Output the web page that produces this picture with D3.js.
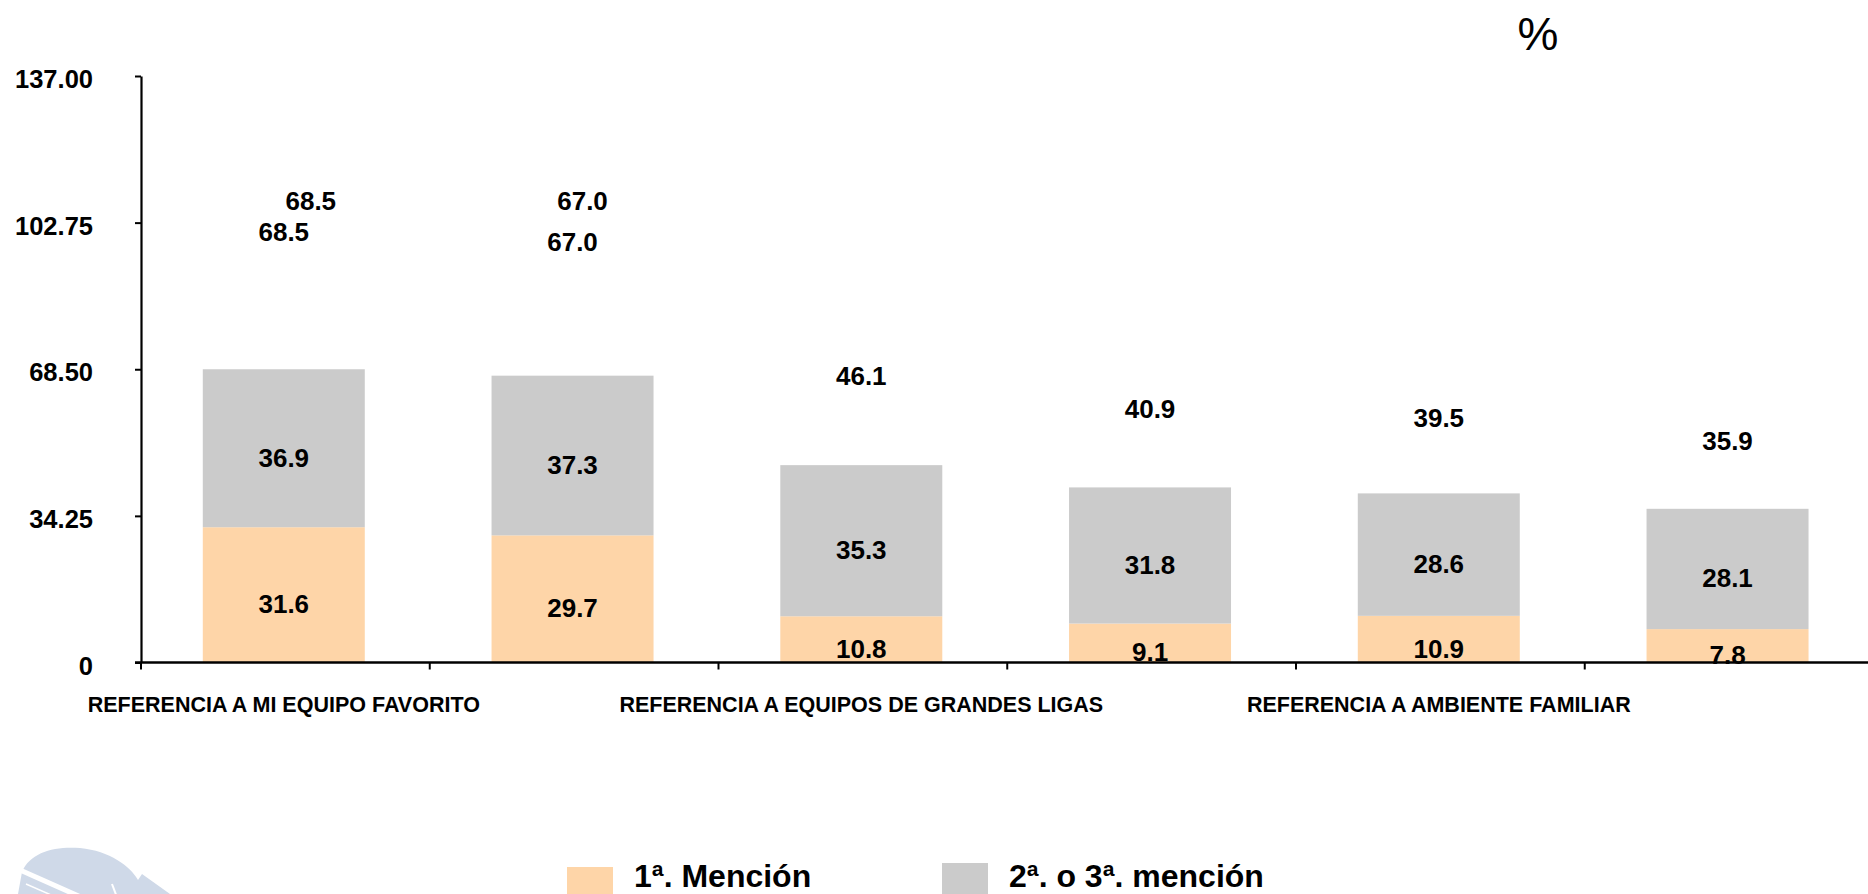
<!DOCTYPE html>
<html>
<head>
<meta charset="utf-8">
<script src="https://cdn.jsdelivr.net/npm/d3@7"></script>
<style>
  body { margin: 0; background: #fff; }
  svg { display: block; font-family: "Liberation Sans", Arial, sans-serif; }
  .lbl { font-weight: bold; font-size: 26px; fill: #000; }
  .axis text { font-weight: bold; fill: #000; }
</style>
</head>
<body>
<div id="chart"><svg></svg></div>
<script>
var categories = [
  "REFERENCIA A MI EQUIPO FAVORITO", "",
  "REFERENCIA A EQUIPOS DE GRANDES LIGAS", "",
  "REFERENCIA A AMBIENTE FAMILIAR", ""
];
var primera = [31.6, 29.7, 10.8, 9.1, 10.9, 7.8];
var segunda = [36.9, 37.3, 35.3, 31.8, 28.6, 28.1];
var totales = [68.5, 67.0, 46.1, 40.9, 39.5, 35.9];
var yTicks = [0, 34.25, 68.5, 102.75, 137];
var seriesNames = ["1ª. Mención", "2ª. o 3ª. mención"];
var colors = ["#fed5a8", "#cbcbcb"];
// second copy of the total label on the first two bars
var extraTotals = [0, 1];

var width = 1868, height = 894;
var axisX = 141, y0 = 662.5, yTop = 76;

var svg = d3.select("#chart svg").
  attr("width", width).
  attr("height", height);

var x = d3.scaleBand().
  domain(d3.range(categories.length)).
  range([axisX, axisX + 6 * 288.75]);

var y = d3.scaleLinear().
  domain([0, 137]).
  range([y0, yTop]);

var barOff = x.bandwidth() * 0.214;
var barW = x.bandwidth() * 0.561;

// watermark logo, bottom left
var logo = svg.append("g");
logo.append("path").
  attr("d", "M18,894 L22,872 C30,852 55,846 80,848 C110,851 130,866 138,880 L142,874 L170,894 Z").
  attr("fill", "#cfd9e8");
logo.append("line").
  attr("x1", 20).attr("y1", 870).attr("x2", 110).attr("y2", 910).
  attr("stroke", "#fff").attr("stroke-width", 5);
logo.append("line").
  attr("x1", 26).attr("y1", 884).attr("x2", 90).attr("y2", 912).
  attr("stroke", "#fff").attr("stroke-width", 1.5);
logo.append("line").
  attr("x1", 112).attr("y1", 884).attr("x2", 118).attr("y2", 900).
  attr("stroke", "#fff").attr("stroke-width", 2);

// bars
var stackData = d3.range(categories.length).map(function(i) {
  return { i: i, a: primera[i], b: segunda[i] };
});
var series = d3.stack().keys(["a", "b"])(stackData);

svg.append("g").
  selectAll("g").
  data(series).
  join("g").
  attr("fill", function(d, k) { return colors[k]; }).
  selectAll("rect").
  data(function(d) { return d; }).
  join("rect").
  attr("x", function(d) { return x(d.data.i) + barOff; }).
  attr("width", barW).
  attr("y", function(d) { return y(d[1]); }).
  attr("height", function(d) { return y(d[0]) - y(d[1]); });

// segment labels
svg.append("g").
  selectAll("g").
  data(series).
  join("g").
  selectAll("text").
  data(function(d) { return d; }).
  join("text").
  attr("class", "lbl").
  attr("text-anchor", "middle").
  attr("x", function(d) { return x(d.data.i) + x.bandwidth() * 0.4945; }).
  attr("y", function(d) { return y((d[0] + d[1]) / 2) + 9; }).
  attr("dy", "0.36em").
  text(function(d) { return (d[1] - d[0]).toFixed(1); });

// total labels (middle of an invisible stacked total)
svg.append("g").
  selectAll("text").
  data(totales).
  join("text").
  attr("class", "lbl").
  attr("text-anchor", "middle").
  attr("x", function(d, i) { return x(i) + x.bandwidth() * 0.4945; }).
  attr("y", function(d) { return y(d * 1.5) + 9; }).
  attr("dy", "0.36em").
  text(function(d) { return d.toFixed(1); });

var extraShift = [27, 10];
svg.append("g").
  selectAll("text").
  data(extraTotals).
  join("text").
  attr("class", "lbl").
  attr("text-anchor", "middle").
  attr("x", function(d, k) { return x(d) + x.bandwidth() * 0.4945 + extraShift[k]; }).
  attr("y", function(d) { return y(110) + 9; }).
  attr("dy", "0.36em").
  text(function(d) { return totales[d].toFixed(1); });

// y axis
var yAxis = d3.axisLeft(y).
  tickValues(yTicks).
  tickSize(6).
  tickSizeOuter(0).
  tickPadding(42).
  tickFormat(function(d) { return d === 0 ? "0" : d3.format(".2f")(d); });

var gY = svg.append("g").
  attr("class", "y axis").
  attr("transform", "translate(" + axisX + ",0)").
  call(yAxis);
gY.select(".domain").attr("stroke", "#000").attr("stroke-width", 2.2);
gY.selectAll(".tick line").attr("stroke", "#000").attr("stroke-width", 2);
gY.selectAll(".tick text").
  attr("font-size", "25.5px").
  attr("dy", "0.46em");

// x axis
var gX = svg.append("g").attr("class", "x axis");
gX.append("line").
  attr("x1", axisX - 6).attr("x2", width).
  attr("y1", y0).attr("y2", y0).
  attr("stroke", "#000").attr("stroke-width", 2.6);
gX.selectAll(".bt").
  data(d3.range(categories.length)).
  join("line").
  attr("class", "bt").
  attr("x1", function(d) { return x(d); }).
  attr("x2", function(d) { return x(d); }).
  attr("y1", y0).attr("y2", y0 + 7).
  attr("stroke", "#000").attr("stroke-width", 2);
gX.selectAll(".cat").
  data(categories).
  join("text").
  attr("class", "cat").
  attr("text-anchor", "middle").
  attr("font-size", "21.5px").
  attr("x", function(d, i) { return x(i) + x.bandwidth() * 0.4945; }).
  attr("y", 712).
  text(function(d) { return d; });

// unit
svg.append("text").
  attr("x", 1538).
  attr("y", 50).
  attr("text-anchor", "middle").
  attr("font-size", "46px").
  attr("fill", "#000").
  text("%");

// legend
var legX = [567, 942];
var legY = [867, 863];
var legend = svg.append("g").
  selectAll("g").
  data(seriesNames).
  join("g");
legend.append("rect").
  attr("x", function(d, i) { return legX[i]; }).
  attr("y", function(d, i) { return legY[i]; }).
  attr("width", 46).
  attr("height", 40).
  attr("fill", function(d, i) { return colors[i]; });
legend.append("text").
  attr("x", function(d, i) { return legX[i] + 67; }).
  attr("y", 887).
  attr("font-size", "32px").
  attr("font-weight", "bold").
  text(function(d) { return d; });
</script>
</body>
</html>
